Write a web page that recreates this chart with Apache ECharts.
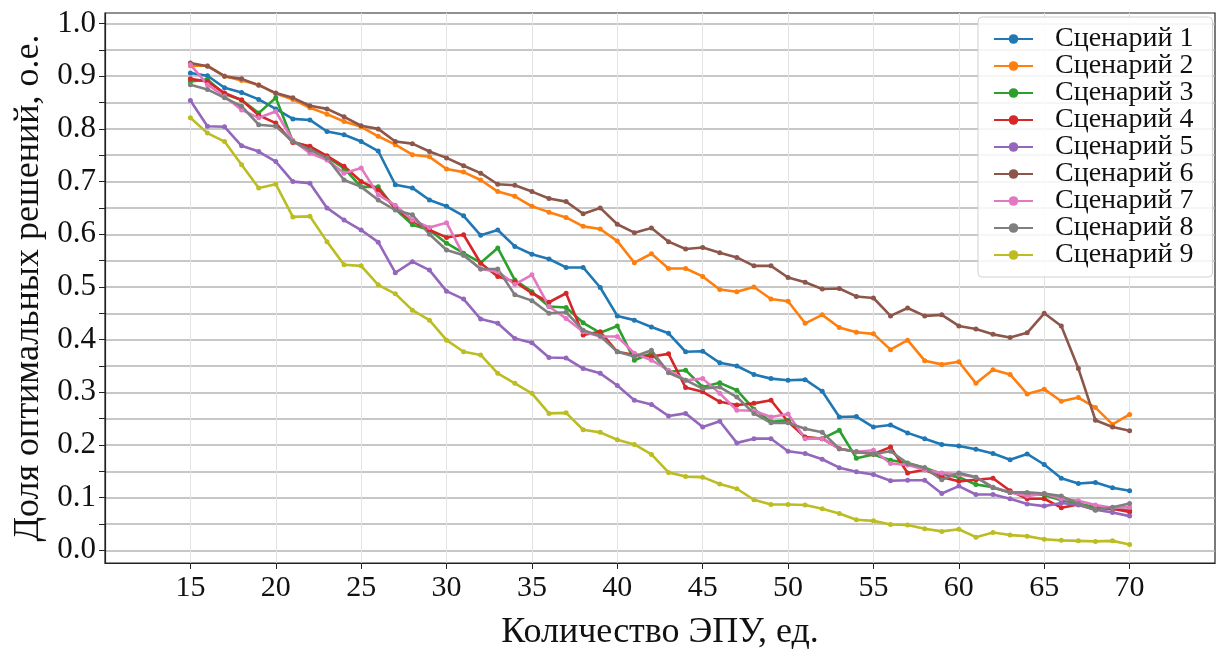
<!DOCTYPE html>
<html><head><meta charset="utf-8">
<script src="https://cdn.jsdelivr.net/npm/echarts@6/dist/echarts.min.js"></script>
<style>html,body{margin:0;padding:0;background:#fff}#c{width:1220px;height:650px}</style>
</head><body><div id="c"></div>
<script>
const xValues = [15,16,17,18,19,20,21,22,23,24,25,26,27,28,29,30,31,32,33,34,35,36,37,38,39,40,41,42,43,44,45,46,47,48,49,50,51,52,53,54,55,56,57,58,59,60,61,62,63,64,65,66,67,68,69,70];
const seriesNames = ['Сценарий 1','Сценарий 2','Сценарий 3','Сценарий 4','Сценарий 5','Сценарий 6','Сценарий 7','Сценарий 8','Сценарий 9'];
const s1 = [0.906,0.901,0.878,0.869,0.856,0.838,0.819,0.817,0.795,0.789,0.776,0.758,0.694,0.688,0.665,0.653,0.635,0.598,0.608,0.577,0.562,0.553,0.537,0.537,0.499,0.445,0.437,0.424,0.412,0.377,0.378,0.356,0.350,0.334,0.326,0.323,0.324,0.302,0.253,0.254,0.234,0.238,0.223,0.212,0.201,0.198,0.192,0.184,0.172,0.183,0.163,0.137,0.127,0.129,0.119,0.113];
const s2 = [0.920,0.920,0.900,0.892,0.884,0.867,0.856,0.840,0.828,0.814,0.804,0.786,0.770,0.751,0.747,0.724,0.718,0.703,0.681,0.672,0.653,0.642,0.632,0.615,0.610,0.587,0.546,0.563,0.535,0.535,0.520,0.495,0.491,0.500,0.477,0.473,0.431,0.447,0.423,0.414,0.411,0.381,0.399,0.360,0.353,0.358,0.317,0.343,0.334,0.297,0.306,0.283,0.290,0.271,0.239,0.258];
const s3 = [0.890,0.894,0.866,0.855,0.830,0.859,0.776,0.765,0.747,0.725,0.690,0.690,0.648,0.618,0.608,0.583,0.564,0.546,0.574,0.513,0.491,0.463,0.461,0.432,0.413,0.426,0.361,0.374,0.339,0.342,0.310,0.318,0.304,0.268,0.244,0.247,0.214,0.212,0.228,0.175,0.182,0.171,0.166,0.157,0.145,0.139,0.125,0.120,0.110,0.108,0.105,0.095,0.089,0.082,0.079,0.076];
const s4 = [0.895,0.890,0.868,0.855,0.826,0.811,0.774,0.767,0.749,0.729,0.700,0.685,0.650,0.625,0.608,0.594,0.599,0.545,0.520,0.510,0.488,0.471,0.488,0.409,0.415,0.377,0.371,0.368,0.373,0.309,0.301,0.282,0.276,0.279,0.285,0.244,0.215,0.212,0.193,0.187,0.183,0.196,0.147,0.153,0.139,0.131,0.134,0.137,0.113,0.098,0.098,0.081,0.087,0.077,0.079,0.073];
const s5 = [0.854,0.805,0.804,0.768,0.757,0.738,0.700,0.697,0.650,0.627,0.608,0.585,0.527,0.548,0.532,0.492,0.477,0.439,0.431,0.402,0.394,0.366,0.365,0.345,0.336,0.313,0.285,0.277,0.255,0.260,0.234,0.245,0.204,0.212,0.212,0.188,0.184,0.173,0.157,0.149,0.144,0.132,0.133,0.133,0.108,0.122,0.106,0.106,0.098,0.088,0.084,0.090,0.086,0.077,0.072,0.065];
const s6 = [0.925,0.919,0.900,0.895,0.883,0.868,0.859,0.844,0.838,0.823,0.806,0.800,0.776,0.772,0.757,0.745,0.730,0.716,0.695,0.693,0.681,0.668,0.662,0.639,0.650,0.619,0.603,0.612,0.586,0.572,0.575,0.565,0.556,0.540,0.540,0.518,0.509,0.496,0.497,0.482,0.479,0.445,0.460,0.445,0.447,0.426,0.420,0.410,0.404,0.413,0.450,0.426,0.345,0.247,0.234,0.227];
const s7 = [0.922,0.884,0.862,0.836,0.821,0.833,0.778,0.754,0.741,0.716,0.726,0.675,0.655,0.627,0.613,0.622,0.560,0.534,0.529,0.505,0.523,0.463,0.440,0.415,0.406,0.406,0.374,0.361,0.342,0.323,0.326,0.298,0.266,0.265,0.253,0.259,0.212,0.212,0.193,0.187,0.190,0.165,0.162,0.153,0.147,0.144,0.139,0.120,0.110,0.103,0.108,0.098,0.094,0.086,0.081,0.082];
const s8 = [0.884,0.875,0.859,0.843,0.808,0.805,0.776,0.760,0.745,0.703,0.690,0.665,0.646,0.637,0.600,0.570,0.560,0.534,0.534,0.485,0.474,0.450,0.452,0.418,0.407,0.377,0.368,0.380,0.337,0.323,0.307,0.310,0.291,0.260,0.242,0.242,0.231,0.224,0.193,0.187,0.183,0.188,0.165,0.157,0.134,0.147,0.139,0.119,0.110,0.110,0.108,0.103,0.089,0.076,0.082,0.089];
const s9 = [0.821,0.792,0.776,0.732,0.688,0.695,0.633,0.634,0.586,0.542,0.540,0.504,0.487,0.456,0.437,0.399,0.377,0.371,0.336,0.317,0.298,0.260,0.261,0.229,0.224,0.210,0.201,0.182,0.148,0.140,0.139,0.126,0.117,0.096,0.087,0.087,0.086,0.079,0.070,0.058,0.056,0.049,0.048,0.041,0.036,0.040,0.025,0.034,0.029,0.027,0.021,0.019,0.018,0.017,0.018,0.011];
const xTicks = [15,20,25,30,35,40,45,50,55,60,65,70];
const yTicks = [0,0.05,0.1,0.15,0.2,0.25,0.3,0.35,0.4,0.45,0.5,0.55,0.6,0.65,0.7,0.75,0.8,0.85,0.9,0.95,1.0];
const yLabels = [0,0.1,0.2,0.3,0.4,0.5,0.6,0.7,0.8,0.9,1.0];
const colors = ['#1f77b4','#ff7f0e','#2ca02c','#d62728','#9467bd','#8c564b','#e377c2','#7f7f7f','#bcbd22'];
const allSeries = [s1,s2,s3,s4,s5,s6,s7,s8,s9];

const FONT = '"Liberation Serif","Times New Roman",serif';
const chart = echarts.init(document.getElementById('c'), null, {renderer:'canvas'});
chart.setOption({
  animation: false,
  color: colors,
  grid: {left:105, right:5, top:13, bottom:87, show:true, borderColor:'#222', borderWidth:1.2,
    backgroundColor:'transparent', containLabel:false, outerBoundsMode:'none'},
  legend: {
    show: true, orient:'vertical', left:978, top:17,
    padding:[8,19,8,15], itemGap:-1, itemWidth:39, itemHeight:12,
    backgroundColor:'rgba(255,255,255,0.85)', borderColor:'#d0d0d0', borderWidth:1, borderRadius:4,
    textStyle:{fontFamily:FONT, fontSize:28, color:'#111', lineHeight:25, padding:[0,0,0,17]},
    data: seriesNames
  },
  xAxis: {
    type:'value', min:10, max:75,
    name:'Количество ЭПУ, ед.', nameLocation:'middle', nameGap:52,
    nameTextStyle:{fontFamily:FONT, fontSize:36, color:'#111'},
    axisLine:{show:true, onZero:false, lineStyle:{color:'#222', width:1.2}},
    axisTick:{show:true, length:6, inside:false, customValues:xTicks, lineStyle:{color:'#222', width:1}},
    axisLabel:{customValues:xTicks, fontFamily:FONT, fontSize:30, color:'#111', margin:10},
    splitLine:{show:true, lineStyle:{color:'#e3e3e3', width:1}}
  },
  yAxis: {
    type:'value', min:-0.024, max:1.02,
    name:'Доля оптимальных решений, о.е.', nameLocation:'middle', nameGap:58, nameRotate:90,
    nameTextStyle:{fontFamily:FONT, fontSize:36, color:'#111'},
    axisLine:{show:true, onZero:false, lineStyle:{color:'#222', width:1.2}},
    axisTick:{show:true, length:6, inside:false, customValues:yTicks, lineStyle:{color:'#222', width:1}},
    axisLabel:{customValues:yLabels, fontFamily:FONT, fontSize:31, color:'#111', margin:9,
      formatter: v => v.toFixed(1)},
    splitLine:{show:true, lineStyle:{color:'#b5b5b5', width:1.6}}
  },
  series: allSeries.map((arr, i) => ({
    name: seriesNames[i], type:'line',
    data: arr.map((v, j) => [xValues[j], v]),
    symbol:'circle', symbolSize:5, showSymbol:true,
    lineStyle:{width:2.6, color:colors[i]},
    itemStyle:{color:colors[i]},
    emphasis:{disabled:true}
  }))
});
</script>
</body></html>
